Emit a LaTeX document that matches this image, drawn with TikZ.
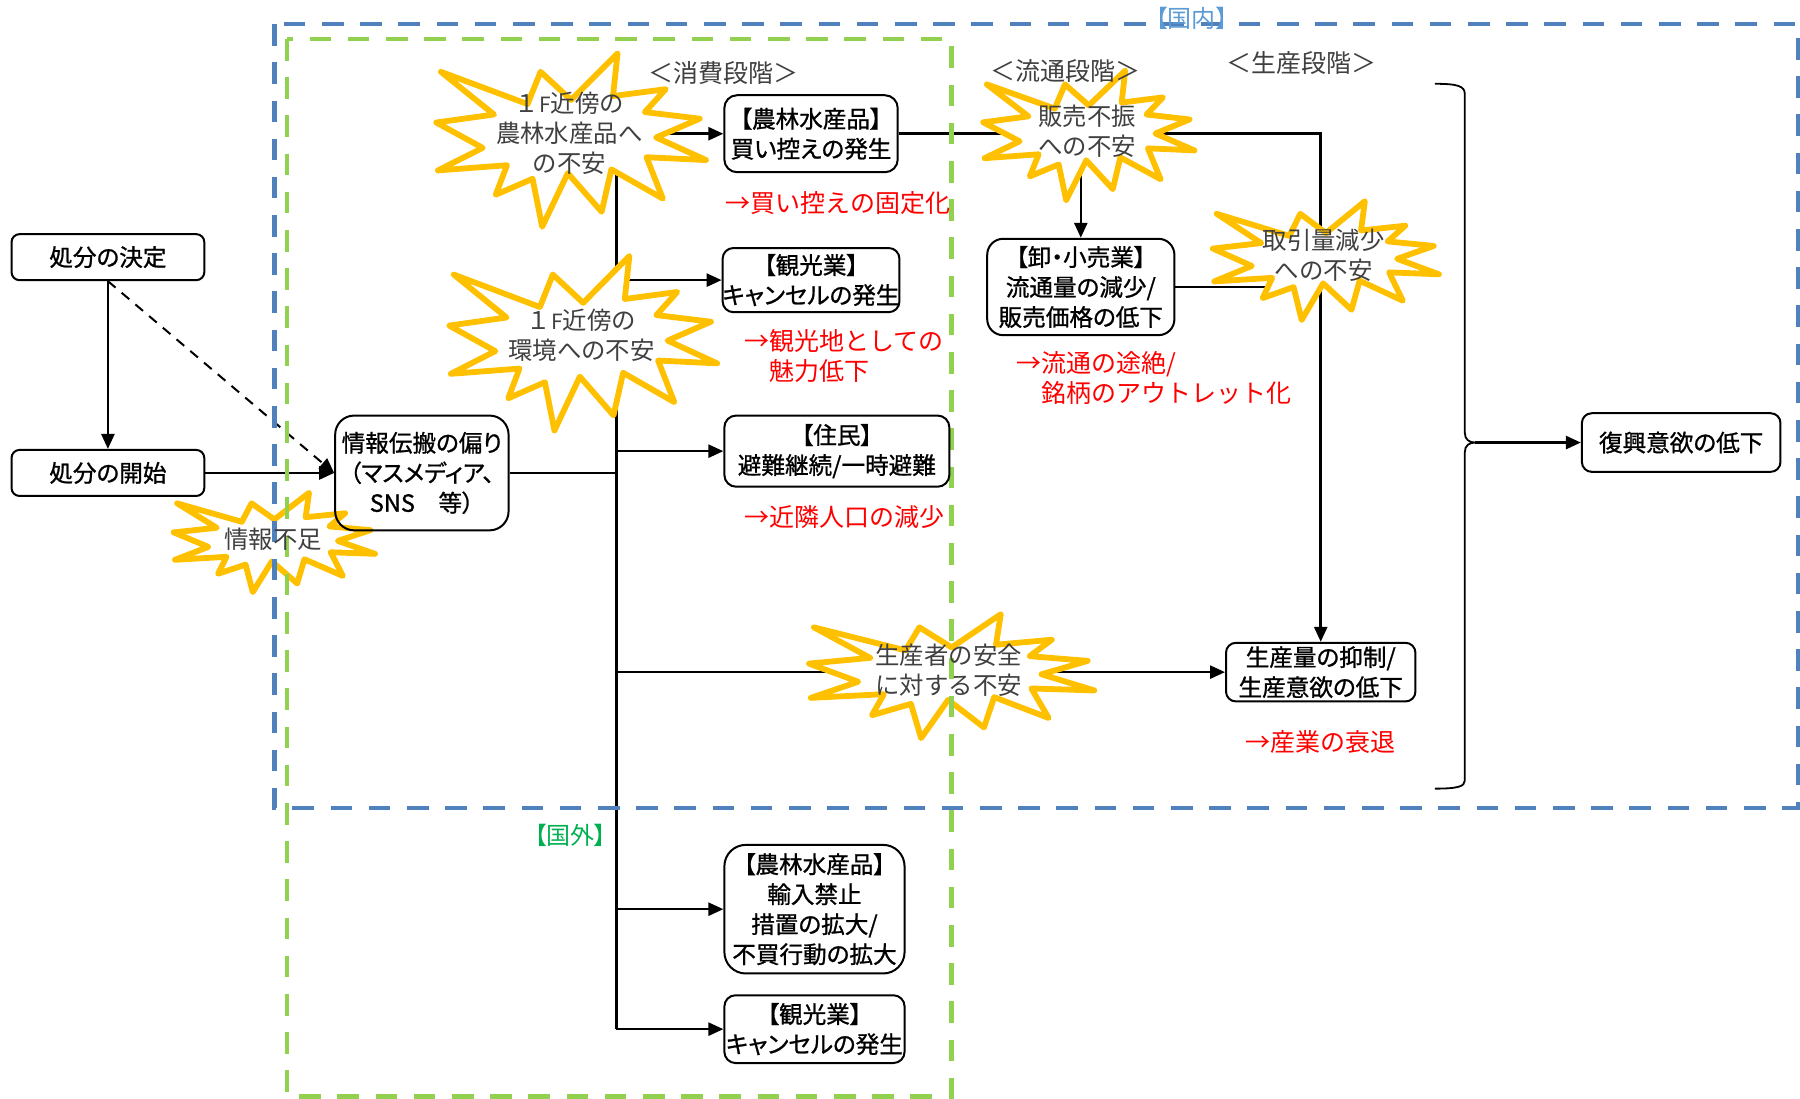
\documentclass[tikz,border=0pt]{standalone}
\usepackage{fontspec}
\setmainfont{Noto Sans CJK JP}
\newfontfamily\boxfont[RawFeature=+palt,FakeBold=1]{Noto Sans CJK JP}
\newfontfamily\tagfont[RawFeature=+palt]{Noto Sans CJK JP}
\usetikzlibrary{arrows.meta}
\definecolor{zoneblue}{RGB}{79,129,189}
\definecolor{tagblue}{RGB}{91,155,213}
\definecolor{zonegreen}{RGB}{146,208,80}
\definecolor{taggreen}{RGB}{0,176,80}
\definecolor{burstyellow}{RGB}{255,192,0}
\definecolor{softblack}{RGB}{64,64,64}
\pgfdeclarelayer{links}
\pgfdeclarelayer{bursts}
\pgfdeclarelayer{zones}
\pgfsetlayers{links,bursts,zones,main}
\newcommand{\explosion}[4]{%
  \begin{scope}[shift={(#1,#2)},xscale={(#3-5)/100},yscale={(#4-5)/100},shift={(-50,-50)}]
    \draw[burstline] (50,26.85) -- (67.23,0) -- (65.53,24.65) -- (85.09,20.63) -- (77.32,33.87)
      -- (97.67,37.67) -- (81.51,48.50) -- (100,61.53) -- (77.95,59.92) -- (84.00,83.77)
      -- (64.91,66.93) -- (61.33,91.38) -- (48.76,69.14) -- (39.28,100) -- (35.72,72.35)
      -- (22.05,81.56) -- (26.24,64.52) -- (0.63,67.53) -- (17.23,54.51) -- (0,39.88)
      -- (21.42,35.26) -- (1.71,10.63) -- (33.85,29.26) -- (38.67,10.63) -- cycle;
  \end{scope}}
\begin{document}
\begin{tikzpicture}[x=0.574pt,y=-0.574pt,
    box/.style={draw, line width=1pt, rounded corners=5pt, align=center, inner sep=0pt,
      font=\boxfont\fontsize{11.8}{15}\selectfont},
    fear/.style={align=center, inner sep=0pt, text=softblack, font=\fontsize{12.2}{15}\selectfont},
    note/.style={anchor=west, align=left, inner sep=0pt, text=red, font=\fontsize{12.5}{15}\selectfont},
    stage/.style={inner sep=0pt, text=softblack, font=\fontsize{12.5}{15}\selectfont},
    tag/.style={inner sep=0pt, font=\tagfont\fontsize{12}{14}\selectfont},
    burstline/.style={draw=burstyellow, fill=white, line width=2.9pt, line join=round},
    zone/.style={line width=2.2pt, dash pattern=on 10.8pt off 8.3pt},
    link/.style={line width=1.3pt},
    arr/.style={link, -{Triangle[length=7.5pt,width=6.5pt]}}]
  \useasboundingbox (0,0) rectangle (1568,957.3);

  \node[box, minimum width=96.4pt, minimum height=23pt, rounded corners=4pt] (decide) at (94,224) {処分の決定};
  \node[box, minimum width=96.4pt, minimum height=23pt, rounded corners=4pt] (start) at (94,412) {処分の開始};
  \node[box, minimum width=86.7pt, minimum height=57.4pt, rounded corners=9.5pt] (bias) at (367.5,412) {情報伝搬の偏り\\（マスメディア、\\SNS　等）};
  \node[box, minimum width=86.7pt, minimum height=38.5pt, rounded corners=6.4pt] (buyjp) at (706.5,116.5) {【農林水産品】\\買い控えの発生};
  \node[box, minimum width=86.7pt, minimum height=32.1pt, rounded corners=5.4pt] (tourjp) at (706.5,244) {【観光業】\\キャンセルの発生};
  \node[box, minimum width=112.5pt, minimum height=35.6pt, rounded corners=5.9pt] (resid) at (729,393) {【住民】\\避難継続/一時避難};
  \node[box, minimum width=93.6pt, minimum height=48.2pt, rounded corners=8pt] (whole) at (941.5,250) {【卸・小売業】\\流通量の減少/\\販売価格の低下};
  \node[box, minimum width=94.7pt, minimum height=29.3pt, rounded corners=4.9pt] (prod) at (1150.5,585.5) {生産量の抑制/\\生産意欲の低下};
  \node[box, minimum width=99.3pt, minimum height=29.3pt, rounded corners=4.9pt] (recov) at (1464.5,385.5) {復興意欲の低下};
  \node[box, minimum width=90.1pt, minimum height=64.3pt, rounded corners=10.7pt] (import) at (709.5,792) {【農林水産品】\\輸入禁止\\措置の拡大/\\不買行動の拡大};
  \node[box, minimum width=90.1pt, minimum height=33.9pt, rounded corners=5.6pt] (tourfr) at (709.5,896.5) {【観光業】\\キャンセルの発生};

  \node[fear] (foodfear) at (496,116.5) {１{\fontsize{10.5}{10.5}\selectfont F}近傍の\\農林水産品へ\\の不安};
  \node[fear] (envfear) at (506.5,292.5) {１{\fontsize{10.5}{10.5}\selectfont F}近傍の\\環境への不安};
  \node[fear] (lackinfo) at (238,470) {情報不足};
  \node[fear] (salesfear) at (947,114) {販売不振\\への不安};
  \node[fear] (tradefear) at (1153,222) {取引量減少\\への不安};
  \node[fear] (safefear) at (826.5,584) {生産者の安全\\に対する不安};

  \node[note] (fixed) at (632,177) {→買い控えの固定化};
  \node[note] (charm) at (648,310) {→観光地としての\\\hspace*{1em}魅力低下};
  \node[note] (people) at (648,450) {→近隣人口の減少};
  \node[note] (outlet) at (885,329) {→流通の途絶/\\\hspace*{1em}銘柄のアウトレット化};
  \node[note] (decline) at (1085,646) {→産業の衰退};

  \node[stage] (consume) at (630,64) {＜消費段階＞};
  \node[stage] (distrib) at (928.5,62) {＜流通段階＞};
  \node[stage] (produce) at (1134,55) {＜生産段階＞};
  \node[tag, text=tagblue] (domestic) at (1038,16) {【国内】};
  \node[tag, text=taggreen] (abroad) at (497,728) {【国外】};

  \begin{pgfonlayer}{links}
    \coordinate (trunk) at (537,120);
    \draw[arr] (decide) -- (start);
    \draw[arr, line width=1pt, dash pattern=on 5pt off 4pt] (decide.south) -- (bias.west);
    \draw[arr] (start) -- (bias);
    \draw[link] (bias) -- (bias -| trunk);
    \draw[link] (trunk) -- (trunk |- tourfr);
    \draw[arr] (foodfear) -- (buyjp);
    \draw[arr] (trunk |- tourjp) -- (tourjp);
    \draw[arr] (trunk |- resid) -- (resid);
    \draw[arr] (trunk |- prod) -- (prod);
    \draw[arr] (trunk |- import) -- (import);
    \draw[arr] (trunk |- tourfr) -- (tourfr);
    \draw[arr] (buyjp) -- (buyjp -| prod) -- (prod);
    \draw[arr] (salesfear -| whole) -- (whole);
    \draw[link] (whole) -- (whole -| prod);
    \draw[line width=0.9pt] (1250,73) .. controls (1270,73) and (1276,75) .. (1276,82) -- (1276,377)
      .. controls (1276,383) and (1280,385.5) .. (1285,385.5) .. controls (1280,385.5) and (1276,388) .. (1276,394)
      -- (1276,680) .. controls (1276,685) and (1270,687) .. (1250,687);
    \coordinate (tip) at (1285,385.5);
    \draw[arr] (tip) -- (recov);
  \end{pgfonlayer}

  \begin{pgfonlayer}{bursts}
    \explosion{497.5}{122}{240}{156}
    \explosion{508}{299}{238.5}{157}
    \explosion{239}{472.5}{180.5}{91.5}
    \explosion{948.5}{118}{189}{118}
    \explosion{1155}{227}{202}{108.5}
    \explosion{829}{589}{253.5}{113}
  \end{pgfonlayer}

  \begin{pgfonlayer}{zones}
    \draw[zone, zoneblue] (239,21) rectangle (1566,704);
    \draw[zone, zonegreen] (250,34) rectangle (829,955);
  \end{pgfonlayer}
\end{tikzpicture}
\end{document}
